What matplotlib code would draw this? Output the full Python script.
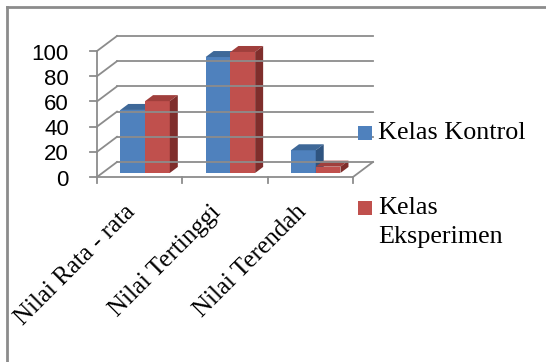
import matplotlib.pyplot as plt
from matplotlib.patches import Polygon, Rectangle
from matplotlib.lines import Line2D

categories = ['Nilai Rata - rata', 'Nilai Tertinggi', 'Nilai Terendah']
series_names = ['Kelas Kontrol', 'Kelas Eksperimen']
kontrol = [50, 92, 18]
eksperimen = [57, 96, 5]
y_ticks = [0, 20, 40, 60, 80, 100]

# colours: front face, top face, side face
face_cols = [('#4F81BD', '#3E6898', '#2F5480'),
             ('#C0504D', '#A03F3C', '#7F2E2C')]
grid_col = '#8C8C8C'

W, H = 546, 362
fig = plt.figure(figsize=(W / 100, H / 100), dpi=100)
ax = fig.add_axes([0, 0, 1, 1])
ax.axis('off')

# pixel layout of the plot floor, used to pick the axis limits
x0_px, cat_px = 97, 85.33
y0_px, val_px = 177, 1.26
ax.set_xlim(-x0_px / cat_px, (W - x0_px) / cat_px)
ax.set_ylim(-(H - y0_px) / val_px, y0_px / val_px)

# oblique depth vector (category units, value units)
DX, DY = 20 / cat_px, 15 / val_px
n = len(categories)
ymax = y_ticks[-1]


def line(xs, ys, **kw):
    ax.add_line(Line2D(xs, ys, color=grid_col, lw=1.3, **kw))


# back wall gridlines + left wall diagonals
for t in y_ticks:
    line([0, DX], [t, t + DY])
    line([DX, n + DX], [t + DY, t + DY])
# front value axis with ticks
line([0, 0], [0, ymax])
for t in y_ticks:
    line([-0.08, 0], [t, t])
    ax.text(-0.33, t - 2.5, str(t), ha='right', va='center',
            fontsize=16, family='Liberation Sans')
# floor front edge, right edge and category ticks
line([0, n], [0, 0])
line([n, n + DX], [0, DY])
for i in range(n + 1):
    line([i, i], [0, -5])

# bars
f0, f1 = 0.27, 0.67
dd = f1 - f0
bw = 0.29
for i in range(n):
    for s, vals in enumerate([kontrol, eksperimen]):
        v = vals[i]
        front, top, side = face_cols[s]
        xa = i + 0.5 - bw + s * bw + f0 * DX
        xb = xa + bw
        yb = f0 * DY
        yt = yb + v
        ox, oy = dd * DX, dd * DY
        ax.add_patch(Polygon([(xa, yb), (xb, yb), (xb, yt), (xa, yt)],
                             closed=True, fc=front, ec='none'))
        ax.add_patch(Polygon([(xa, yt), (xb, yt), (xb + ox, yt + oy), (xa + ox, yt + oy)],
                             closed=True, fc=top, ec='none'))
        ax.add_patch(Polygon([(xb, yb), (xb + ox, yb + oy), (xb + ox, yt + oy), (xb, yt)],
                             closed=True, fc=side, ec='none'))

# rotated category labels
for i, c in enumerate(categories):
    ax.text(i + 0.32, -19, c, rotation=45, ha='right', va='top',
            rotation_mode='anchor', fontsize=18, family='Liberation Serif')

# legend
leg_y = [133, 208]
leg_lines = [['Kelas Kontrol'], ['Kelas', 'Eksperimen']]
for s in range(len(series_names)):
    yy = 1 - leg_y[s] / H
    fig.patches.append(Rectangle((358 / W, yy - 7 / H), 14 / W, 14 / H,
                                 transform=fig.transFigure, fc=face_cols[s][0], ec='none'))
    for k, txt in enumerate(leg_lines[s]):
        fig.text(378 / W, yy - 29 * k / H, txt, ha='left', va='center',
                 fontsize=18.8, family='Liberation Serif')

# chart border
fig.add_artist(Line2D([7 / W, 7 / W], [0, 1 - 7 / H], transform=fig.transFigure,
                      color='#8C8C8C', lw=2))
fig.add_artist(Line2D([7 / W, 1], [1 - 7 / H, 1 - 7 / H], transform=fig.transFigure,
                      color='#8C8C8C', lw=2))

fig.savefig('out.png', dpi=100)
